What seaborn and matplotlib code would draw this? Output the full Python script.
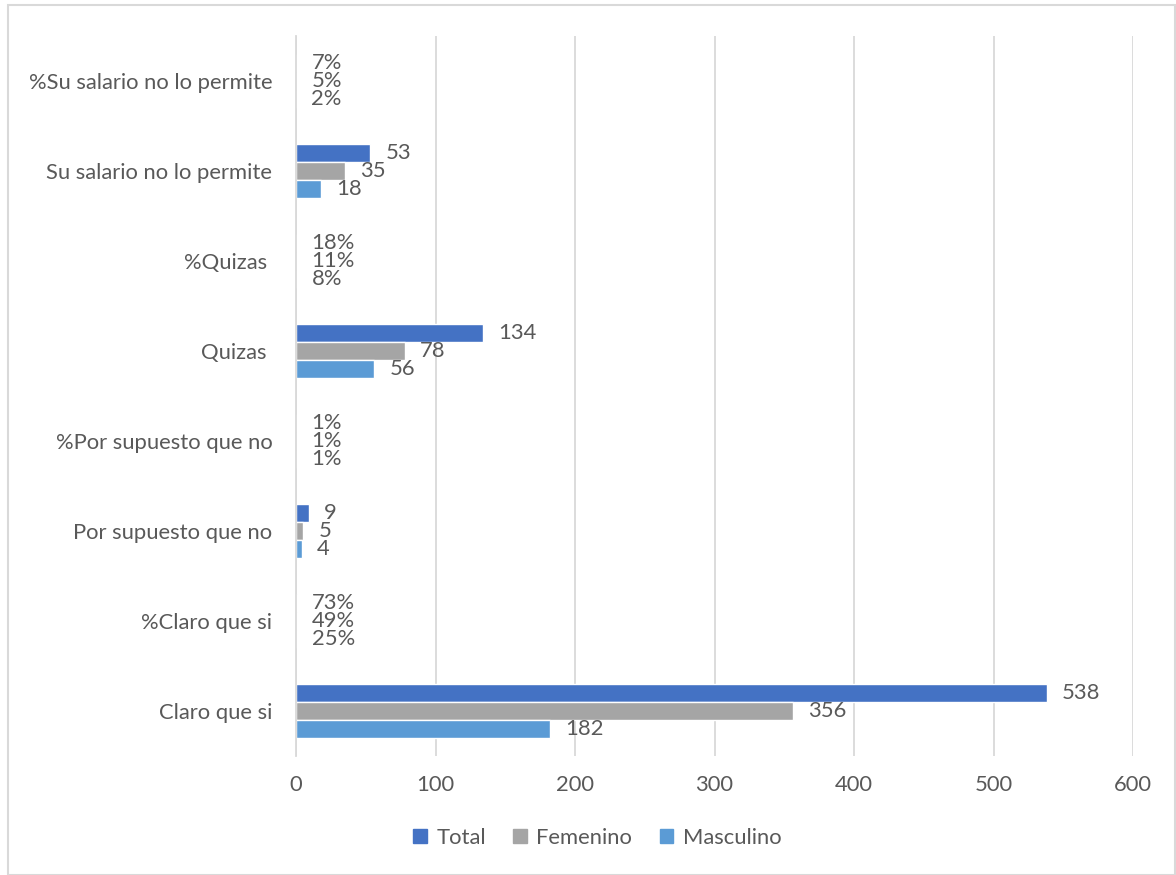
import matplotlib
matplotlib.use("Agg")
import matplotlib.pyplot as plt
import seaborn as sns
import pandas as pd
from matplotlib.patches import Rectangle

categories = ["%Su salario no lo permite", "Su salario no lo permite", "%Quizas ",
              "Quizas ", "%Por supuesto que no", "Por supuesto que no",
              "%Claro que si", "Claro que si"]
series = ["Total", "Femenino", "Masculino"]
total = [0.07, 53, 0.18, 134, 0.01, 9, 0.73, 538]
femenino = [0.05, 35, 0.11, 78, 0.01, 5, 0.49, 356]
masculino = [0.02, 18, 0.08, 56, 0.01, 4, 0.25, 182]
is_percent = [True, False, True, False, True, False, True, False]
x_ticks = [0, 100, 200, 300, 400, 500, 600]
colors = ["#4472C4", "#A5A5A5", "#5B9BD5"]

rows = []
for s, vals in zip(series, [total, femenino, masculino]):
    for c, v in zip(categories, vals):
        rows.append({"Categoria": c, "Serie": s, "Valor": v})
df = pd.DataFrame(rows)

sns.set_theme(style="white")
plt.rcParams["font.family"] = ["Lato", "DejaVu Sans"]
txt = "#595959"
fs = 15.8

fig = plt.figure(figsize=(11.76, 8.75), dpi=100)
ax = fig.add_axes([296/1176, 1-756/875, (1133-296)/1176, (756-36)/875])

sns.barplot(data=df, y="Categoria", x="Valor", hue="Serie", order=categories,
            hue_order=series, palette=colors, orient="h", width=0.6,
            saturation=1, ax=ax, legend=False, errorbar=None)

for cont, vals in zip(ax.containers, [total, femenino, masculino]):
    labels = [f"{v*100:.0f}%" if p else f"{v:g}" for v, p in zip(vals, is_percent)]
    ax.bar_label(cont, labels=labels, padding=11, fontsize=fs, color=txt)

ax.set_xlim(0, 600)
ax.set_xticks(x_ticks)
ax.grid(axis="x", color="#D9D9D9", linewidth=1.3)
ax.set_axisbelow(True)
for sp in ["top", "right", "bottom"]:
    ax.spines[sp].set_visible(False)
ax.spines["left"].set_color("#D9D9D9")
ax.spines["left"].set_linewidth(1.3)
ax.set_xlabel("")
ax.set_ylabel("")
ax.tick_params(axis="both", length=0, labelsize=fs, labelcolor=txt)
ax.tick_params(axis="y", pad=17)
ax.tick_params(axis="x", pad=14)

handles = [Rectangle((0, 0), 1, 1, color=c) for c in colors]
fig.legend(handles, series, loc="center", bbox_to_anchor=(0.508, 1-838/875),
           ncol=3, frameon=False, fontsize=fs, labelcolor=txt,
           handlelength=0.6, handleheight=0.6, handletextpad=0.45, columnspacing=1.25)

fig.add_artist(Rectangle((8/1176, 0), 1-9/1176, 1-5/875, transform=fig.transFigure,
                         fill=False, edgecolor="#D9D9D9", linewidth=1.5))

fig.savefig("out.png", dpi=100)
